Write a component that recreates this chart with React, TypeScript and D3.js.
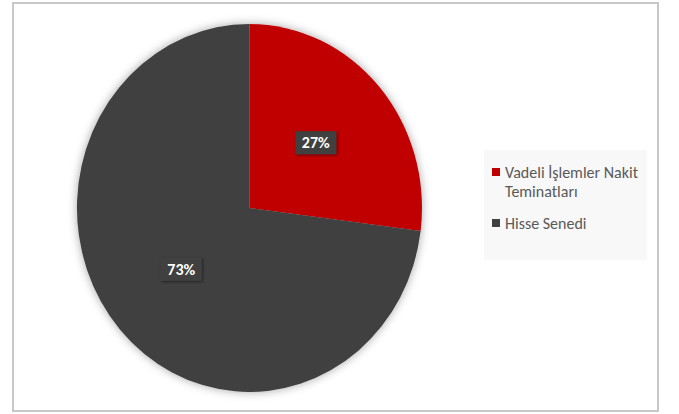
import { useEffect, useRef } from "react";
import * as d3 from "d3";

const categories = ["Vadeli İşlemler Nakit Teminatları", "Hisse Senedi"];
const values = [27, 73];
const colors = ["#c00000", "#404040"];
const legendLines = [["Vadeli İşlemler Nakit", "Teminatları"], ["Hisse Senedi"]];

const W = 679;
const H = 414;
const FONT = "Carlito, 'Liberation Sans', Arial, sans-serif";

export default function App() {
  const svgRef = useRef<SVGSVGElement>(null);

  useEffect(() => {
    if (!svgRef.current) return;
    const svg = d3.select(svgRef.current);
    svg.selectAll("*").remove();

    const defs = svg.append("defs");
    const sh = defs
      .append("filter")
      .attr("id", "pieShadow")
      .attr("x", "-20%")
      .attr("y", "-20%")
      .attr("width", "140%")
      .attr("height", "140%");
    sh.append("feDropShadow")
      .attr("dx", 0)
      .attr("dy", 0)
      .attr("stdDeviation", 5)
      .attr("flood-color", "#000")
      .attr("flood-opacity", 0.35);

    const lsh = defs
      .append("filter")
      .attr("id", "lblShadow")
      .attr("x", "-30%")
      .attr("y", "-30%")
      .attr("width", "160%")
      .attr("height", "160%");
    lsh.append("feDropShadow")
      .attr("dx", 1)
      .attr("dy", 1)
      .attr("stdDeviation", 1.5)
      .attr("flood-color", "#000")
      .attr("flood-opacity", 0.5);

    // chart area border
    svg.append("rect")
      .attr("x", 13)
      .attr("y", 3)
      .attr("width", 645)
      .attr("height", 408)
      .attr("fill", "#fff")
      .attr("stroke", "#c8c8c8")
      .attr("stroke-width", 2);

    const cx = 249.5;
    const cy = 208;
    const rx = 172.5;
    const ry = 184;

    const pie = d3.pie<number>().value((d) => d).sort(null);
    const arcs = pie(values);
    const arc = d3.arc<d3.PieArcDatum<number>>().innerRadius(0).outerRadius(1);

    // pie is slightly elliptical: unit arcs scaled to rx/ry
    const g = svg.append("g").attr("filter", "url(#pieShadow)");
    g.selectAll("path")
      .data(arcs)
      .enter()
      .append("path")
      .attr("transform", `translate(${cx},${cy}) scale(${rx},${ry})`)
      .attr("d", (d) => arc(d) as string)
      .attr("fill", (d, i) => colors[i]);

    // data labels
    const labelArc = d3.arc<d3.PieArcDatum<number>>().innerRadius(0.52).outerRadius(0.52);
    arcs.forEach((d) => {
      const [ux, uy] = labelArc.centroid(d);
      const lx = cx + ux * rx - 1;
      const ly = cy + uy * ry - 2;
      const lg = svg.append("g").attr("transform", `translate(${lx},${ly})`);
      lg.append("rect")
        .attr("x", -20.5)
        .attr("y", -11.5)
        .attr("width", 41)
        .attr("height", 23)
        .attr("fill", "#404040")
        .attr("filter", "url(#lblShadow)");
      lg.append("text")
        .attr("text-anchor", "middle")
        .attr("dy", "0.36em")
        .attr("font-family", FONT)
        .attr("font-size", 16)
        .attr("font-weight", "bold")
        .attr("fill", "#fff")
        .text(`${d.data}%`);
    });

    // legend
    svg.append("rect")
      .attr("x", 484)
      .attr("y", 150)
      .attr("width", 163)
      .attr("height", 110)
      .attr("fill", "#f8f8f8");

    const legendY = [178, 229];
    categories.forEach((c, i) => {
      svg.append("rect")
        .attr("x", 492)
        .attr("y", legendY[i] - 10)
        .attr("width", 8)
        .attr("height", 8)
        .attr("fill", colors[i]);
      const t = svg.append("text")
        .attr("x", 505)
        .attr("y", legendY[i])
        .attr("font-family", FONT)
        .attr("font-size", 16)
        .attr("fill", "#595959");
      legendLines[i].forEach((line, j) => {
        t.append("tspan")
          .attr("x", 505)
          .attr("dy", j === 0 ? 0 : 19)
          .text(line);
      });
    });
  }, []);

  return (
    <div style={{ position: "absolute", left: 0, top: 0 }}>
      <svg ref={svgRef} width={W} height={H} />
    </div>
  );
}
